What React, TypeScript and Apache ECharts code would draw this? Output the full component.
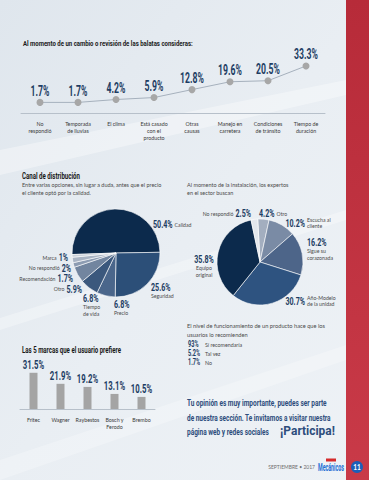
import React, { useEffect, useRef } from 'react';
import * as echarts from 'echarts';

// ---------- data ----------
const changeTitle = 'Al momento de un cambio o revisión de las balatas consideras:';
const changeCategories = ['No\nrespondió', 'Temporada\nde lluvias', 'El clima', 'Está casado\ncon el\nproducto', 'Otras\ncausas', 'Manejo en\ncarretera', 'Condiciones\nde tránsito', 'Tiempo de\nduración'];
const changeValues = [1.7, 1.7, 4.2, 5.9, 12.8, 19.6, 20.5, 33.3];

const channelTitle = 'Canal de distribución';
const channelSubtitle = 'Entre varias opciones, sin lugar a duda, antes que el precio\nel cliente optó por la calidad.';
const channelNames = ['Calidad', 'Seguridad', 'Precio', 'Tiempo\nde vida', 'Otro', 'Recomendación', 'No respondió', 'Marca'];
const channelValues = [50.4, 25.6, 6.8, 6.8, 5.9, 1.7, 2, 1];

const expertSubtitle = 'Al momento de la instalación, los expertos\nen el sector buscan';
const expertNames = ['Otro', 'Escucha al\ncliente', 'Sigue su\ncorazonada', 'Año-Modelo\nde la unidad', 'Equipo\noriginal', 'No respondió'];
const expertValues = [4.2, 10.2, 16.2, 30.7, 35.8, 2.5];

const brandTitle = 'Las 5 marcas que el usuario prefiere';
const brandNames = ['Fritec', 'Wagner', 'Raybestos', 'Bosch y\nFerodo', 'Brembo'];
const brandValues = [31.5, 21.9, 19.2, 13.1, 10.5];

const recommendIntro = 'El nivel de funcionamiento de un producto hace que los\nusuarios lo recomienden';
const recommendLabels = ['Sí recomendaría', 'Tal vez', 'No'];
const recommendValues = [93, 5.2, 1.7];

const closingLines = ['Tu opinión es muy importante, puedes ser parte', 'de nuestra sección. Te invitamos a visitar nuestra', 'página web y redes sociales'];
const closingCall = '¡Participa!';
const footerDate = 'SEPTIEMBRE • 2017';
const logoText = 'Mecánicos';
const pageNumber = '11';

// ---------- styles / layout ----------
const COND = 'Roboto, "Noto Sans", sans-serif';
const BODY = 'Lato, "Noto Sans", sans-serif';
const NAVY = '#1d3d63';
const TEXT = '#4a4a4a';
const VSX = 0.62; // horizontal squeeze of bold figures

const channelColors = ['#0c2a4c', '#2c4f78', '#4a668b', '#3b587d', '#72859f', '#8d9cb2', '#a9b4c4', '#c9d0da'];
const expertColors = ['#a3aebf', '#7a8ba5', '#4d6589', '#2e5380', '#0c2a4c', '#e2e6ec'];

type Lbl = { kind: 'vn' | 'nv' | 'stack' | 'side'; x: number; y: number; align?: string; nameX?: number };
const channelLabelLayout: Lbl[] = [
  { kind: 'vn', x: 153, y: 224 },
  { kind: 'stack', x: 151, y: 287, align: 'left' },
  { kind: 'stack', x: 114, y: 304, align: 'left' },
  { kind: 'stack', x: 83, y: 298, align: 'left' },
  { kind: 'nv', x: 82, y: 288.5 },
  { kind: 'nv', x: 73, y: 278 },
  { kind: 'nv', x: 71, y: 267.5 },
  { kind: 'nv', x: 68, y: 257 },
];
const expertLabelLayout: Lbl[] = [
  { kind: 'vn', x: 259, y: 213 },
  { kind: 'side', x: 305, y: 223, nameX: 307 },
  { kind: 'stack', x: 307, y: 242, align: 'left' },
  { kind: 'side', x: 305, y: 301, nameX: 307 },
  { kind: 'stack', x: 204, y: 259, align: 'center' },
  { kind: 'nv', x: 251, y: 213 },
];

const pct = (v: number) => `${v}%`;

let mctx: CanvasRenderingContext2D | null = null;
function measure(text: string, size: number, family: string, weight = 'normal') {
  if (!mctx) mctx = document.createElement('canvas').getContext('2d');
  if (!mctx) return text.length * size * 0.5;
  mctx.font = `${weight} ${size}px ${family}`;
  return Math.max(...text.split('\n').map((l) => mctx!.measureText(l).width));
}

function t(x: number, y: number, text: string, o: any = {}) {
  const size = o.size ?? 5.5;
  const font = o.font ?? BODY;
  const weight = o.weight ?? 'normal';
  let sx = o.sx ?? 1;
  if (o.fit) sx = o.fit / measure(text, size, font, weight);
  return {
    type: 'text', x, y, scaleX: sx, silent: true, z: 10,
    style: {
      text, fill: o.color ?? TEXT, fontFamily: font, fontSize: size,
      fontWeight: weight, lineHeight: o.lh ?? size * 1.45,
      align: o.align ?? 'left', verticalAlign: o.va ?? 'middle',
    },
  };
}

const VAL = { font: COND, weight: 'bold', size: 11.5, color: NAVY, sx: VSX };
const NAME = { size: 5.2, lh: 6.8 };

function pieLabels(names: string[], values: number[], layout: Lbl[]) {
  const out: any[] = [];
  names.forEach((name, i) => {
    const L = layout[i];
    const v = pct(values[i]);
    const wv = measure(v, VAL.size, VAL.font, VAL.weight) * VSX;
    if (L.kind === 'vn') {
      out.push(t(L.x, L.y, v, VAL));
      out.push(t(L.x + wv + 2, L.y + 0.5, name, NAME));
    } else if (L.kind === 'nv') {
      out.push(t(L.x, L.y, v, { ...VAL, align: 'right' }));
      out.push(t(L.x - wv - 2, L.y + 0.5, name, { ...NAME, align: 'right' }));
    } else if (L.kind === 'side') {
      out.push(t(L.x, L.y, v, { ...VAL, align: 'right' }));
      out.push(t(L.nameX!, L.y, name, { ...NAME, lh: 6.5 }));
    } else {
      out.push(t(L.x, L.y, v, { ...VAL, align: L.align }));
      out.push(t(L.x, L.y + 5.5, name, { ...NAME, va: 'top', align: L.align }));
    }
  });
  return out;
}

export default function App() {
  const ref = useRef<HTMLDivElement>(null);
  useEffect(() => {
    document.body.style.margin = '0';
    const chart = echarts.init(ref.current!, null, { renderer: 'svg' });

    const graphics: any[] = [
      {
        type: 'rect', shape: { x: 0, y: 0, width: 369, height: 480 }, silent: true, z: -10,
        style: { fill: new echarts.graphic.LinearGradient(0, 0, 1, 1, [{ offset: 0, color: '#dfe6ed' }, { offset: 0.5, color: '#e9eef3' }, { offset: 1, color: '#eef2f6' }]) },
      },
      { type: 'polygon', silent: true, z: -9, shape: { points: [[0, 150], [0, 175], [346, 95], [346, 80]] }, style: { fill: 'rgba(255,255,255,0.35)' } },
      { type: 'polygon', silent: true, z: -9, shape: { points: [[0, 318], [0, 330], [346, 220], [346, 210]] }, style: { fill: 'rgba(255,255,255,0.3)' } },
      { type: 'polygon', silent: true, z: -9, shape: { points: [[0, 460], [0, 480], [346, 360], [346, 345]] }, style: { fill: 'rgba(255,255,255,0.25)' } },
      {
        type: 'rect', shape: { x: 346, y: 0, width: 23, height: 480 }, silent: true, z: -5,
        style: { fill: new echarts.graphic.LinearGradient(0, 0, 0, 1, [{ offset: 0, color: '#b72b39' }, { offset: 1, color: '#c93a48' }]) },
      },
      t(23, 43, changeTitle, { font: COND, weight: 'bold', size: 8, color: '#1a1a1a', fit: 170 }),
      t(22, 176, channelTitle, { font: COND, weight: 'bold', size: 8.5, color: '#1a1a1a', fit: 58 }),
      t(22, 181, channelSubtitle, { size: 5.5, va: 'top', lh: 8 }),
      t(187, 181, expertSubtitle, { size: 5.5, va: 'top', lh: 8 }),
      t(22, 350, brandTitle, { font: COND, weight: 'bold', size: 8.5, color: '#1a1a1a', fit: 99 }),
      t(187, 321.5, recommendIntro, { size: 5.7, va: 'top', lh: 8.5 }),
      ...recommendValues.flatMap((v, i) => [
        t(188, 344 + i * 9, pct(v), { font: COND, weight: 'bold', size: 9, color: NAVY, sx: VSX }),
        t(205, 344.5 + i * 9, recommendLabels[i], { size: 5.3 }),
      ]),
      t(187, 403, closingLines[0], { font: COND, weight: 'bold', size: 9.5, color: '#2d4d7c', fit: 140 }),
      t(187, 417, closingLines[1], { font: COND, weight: 'bold', size: 9.5, color: '#2d4d7c', fit: 144 }),
      t(187, 431, closingLines[2], { font: COND, weight: 'bold', size: 9.5, color: '#2d4d7c', fit: 82 }),
      t(280, 430, closingCall, { font: COND, weight: 'bold', size: 13, color: '#2d4d7c', fit: 55 }),
      t(315, 467, footerDate, { size: 5, color: '#6f6f6f', align: 'right' }),
      { type: 'rect', silent: true, z: 10, shape: { x: 326, y: 458.5, width: 10, height: 3 }, style: { fill: '#d52b2b' } },
      t(318, 467.5, logoText, { font: COND, weight: 'bold', size: 11, color: '#1d6fd4', fit: 26 }),
      { type: 'circle', silent: true, z: 10, shape: { cx: 357, cy: 467, r: 6 }, style: { fill: '#1d5fb8' } },
      t(357, 467, pageNumber, { font: BODY, weight: 'bold', size: 6.5, color: '#ffffff', align: 'center' }),
      ...pieLabels(channelNames, channelValues, channelLabelLayout),
      ...pieLabels(expertNames, expertValues, expertLabelLayout),
    ];

    const axisCommon = (data: string[], grid: number) => ({
      type: 'category', gridIndex: grid, data,
      axisLine: { onZero: false, lineStyle: { color: '#b7c0ca', width: 1 } },
      axisTick: { alignWithLabel: true, length: 3, lineStyle: { color: '#b7c0ca' } },
      axisLabel: { interval: 0, fontSize: 5.3, lineHeight: 6.8, color: '#3a3a3a', margin: 8, fontFamily: BODY },
    });

    const valueLabels = (xi: number, values: number[], size: number, gap: number) => ({
      type: 'custom', xAxisIndex: xi, yAxisIndex: xi, silent: true, z: 5,
      data: values.map((v, i) => [i, v]),
      renderItem: (_p: any, api: any) => {
        const v = api.value(1);
        const pt = api.coord([api.value(0), v]);
        return {
          type: 'text', x: pt[0], y: pt[1] - gap, scaleX: VSX,
          style: { text: pct(v), fill: NAVY, fontFamily: COND, fontWeight: 'bold', fontSize: size, align: 'center', verticalAlign: 'bottom' },
        };
      },
    });

    chart.setOption({
      animation: false,
      backgroundColor: '#e8edf2',
      grid: [
        { left: 21, top: 64, width: 304, height: 49 },
        { left: 20, top: 363, width: 135, height: 46 },
      ],
      xAxis: [axisCommon(changeCategories, 0), axisCommon(brandNames, 1)],
      yAxis: [
        { type: 'value', gridIndex: 0, min: -7.5, max: 35, show: false },
        { type: 'value', gridIndex: 1, min: 0, max: 40, show: false },
      ],
      series: [
        {
          type: 'line', xAxisIndex: 0, yAxisIndex: 0, data: changeValues,
          symbol: 'circle', symbolSize: 7, itemStyle: { color: '#a7a7a7' },
          lineStyle: { color: '#a6b1bd', width: 1 },
        },
        valueLabels(0, changeValues, 14, 4.5),
        {
          type: 'bar', xAxisIndex: 1, yAxisIndex: 1, data: brandValues, barWidth: 8,
          itemStyle: { color: '#a4a4a4' },
        },
        valueLabels(1, brandValues, 12.5, 1.5),
        {
          type: 'pie', center: [116, 253], radius: 44, startAngle: 182, clockwise: true,
          label: { show: false }, labelLine: { show: false }, silent: true,
          itemStyle: { borderColor: '#ffffff', borderWidth: 0.6 },
          data: channelNames.map((n, i) => ({ name: n, value: channelValues[i], itemStyle: { color: channelColors[i] } })),
        },
        {
          type: 'pie', center: [260, 262], radius: 43, startAngle: 93, clockwise: true,
          label: { show: false }, labelLine: { show: false }, silent: true,
          itemStyle: { borderColor: '#ffffff', borderWidth: 0.6 },
          data: expertNames.map((n, i) => ({ name: n, value: expertValues[i], itemStyle: { color: expertColors[i] } })),
        },
      ],
      graphic: { elements: graphics },
    });
    return () => chart.dispose();
  }, []);
  return <div ref={ref} style={{ width: 369, height: 480 }} />;
}
